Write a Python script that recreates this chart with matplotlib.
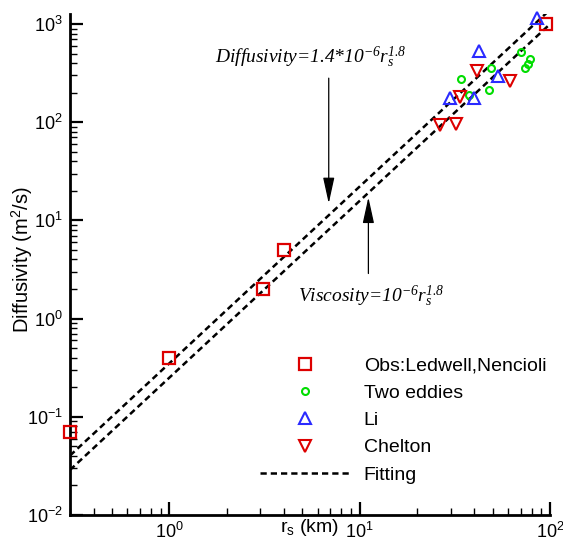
import numpy as np
import matplotlib
matplotlib.use('Agg')
import matplotlib.pyplot as plt
from matplotlib.ticker import LogLocator, NullFormatter

plt.rcParams['font.family'] = ['Liberation Sans', 'DejaVu Sans']
plt.rcParams['mathtext.fontset'] = 'custom'
plt.rcParams['mathtext.rm'] = 'Liberation Serif:italic'
plt.rcParams['mathtext.it'] = 'Liberation Serif:italic'

# observations (r_s in km, diffusivity in m^2/s)
obs_x = [0.3, 1.0, 3.1, 4.0, 95.0]
obs_y = [0.07, 0.4, 2.0, 5.0, 1000.0]

eddy_x = [34.0, 48.7, 37.6, 47.6, 70.1, 78.2, 76.3, 73.6]
eddy_y = [273.0, 358.0, 190.0, 212.0, 518.0, 436.0, 388.0, 353.0]

li_x = [85.0, 42.4, 53.0, 29.9, 39.8]
li_y = [1143.0, 535.0, 294.0, 175.0, 175.0]

chelton_x = [41.4, 61.5, 33.6, 26.4, 31.9]
chelton_y = [333.0, 264.0, 179.0, 93.0, 97.0]

# fitting: coefficient * (r_s in m)^1.8
fit_coef = [1.4e-6, 1.0e-6]
fit_exp = 1.8

red = '#dd0000'
green = '#00dd00'
blue = '#2a2aff'

fig = plt.figure(figsize=(5.63, 5.49), dpi=100)
ax = fig.add_axes([0.1243, 0.0619, 0.8527, 0.9126])

xs = np.logspace(np.log10(0.3), np.log10(100), 200)
fit_lines = []
for c in fit_coef:
    ln, = ax.plot(xs, c * (xs * 1000) ** fit_exp, color='k', ls=(0, (2.5, 1.6)), lw=1.8,
                  zorder=2)
    fit_lines.append(ln)

h_obs, = ax.plot(obs_x, obs_y, 's', ms=8, mfc='none', mec=red, mew=1.6, ls='none',
                 zorder=3, clip_on=False)
h_eddy, = ax.plot(eddy_x, eddy_y, 'o', ms=5, mfc='none', mec=green, mew=1.5, ls='none',
                  zorder=3)
h_li, = ax.plot(li_x, li_y, '^', ms=9, mfc='none', mec=blue, mew=1.5, ls='none',
                zorder=3, clip_on=False)
h_ch, = ax.plot(chelton_x, chelton_y, 'v', ms=9, mfc='none', mec=red, mew=1.5, ls='none',
                zorder=3)

ax.set_xscale('log')
ax.set_yscale('log')
ax.set_xlim(0.3, 100)
ax.set_ylim(0.01, 1265)

for s in ['top', 'right']:
    ax.spines[s].set_visible(False)
for s in ['left', 'bottom']:
    ax.spines[s].set_linewidth(2)

ax.xaxis.set_minor_locator(LogLocator(base=10, subs=np.arange(2, 10)))
ax.yaxis.set_minor_locator(LogLocator(base=10, subs=np.arange(2, 10)))
ax.xaxis.set_minor_formatter(NullFormatter())
ax.yaxis.set_minor_formatter(NullFormatter())
ax.tick_params(which='major', direction='in', length=9.5, width=1.6, labelsize=13, pad=5)
ax.tick_params(which='minor', direction='in', length=5, width=1.0)

ax.set_xlabel(r'r$\mathdefault{_s}$ (km)', fontsize=14, labelpad=-18)
ax.set_ylabel(r'Diffusivity (m$\mathdefault{^2}$/s)', fontsize=14.5)
ax.yaxis.set_label_coords(-0.072, 0.51)

tfont = dict(family='Liberation Serif', style='italic', fontsize=14)
ax.text(5.5, 460, r'Diffusivity=1.4*10$^{-6}$r$_s^{1.8}$', ha='center', va='center', **tfont)
ax.text(11.5, 1.70, r'Viscosity=10$^{-6}$r$_s^{1.8}$', ha='center', va='center', **tfont)

arrow = dict(arrowstyle='-|>,head_length=1.6,head_width=0.35', color='k', lw=0.9,
             shrinkA=0, shrinkB=0)
ax.annotate('', xy=(6.87, 14.9), xytext=(6.87, 281), arrowprops=arrow)
ax.annotate('', xy=(11.1, 17.2), xytext=(11.1, 2.88), arrowprops=arrow)

ax.legend([h_obs, h_eddy, h_li, h_ch, fit_lines[0]],
          ['Obs:Ledwell,Nencioli', 'Two eddies', 'Li', 'Chelton', 'Fitting'],
          loc='upper left', bbox_to_anchor=(252 / 563, 1 - 349 / 549),
          bbox_transform=fig.transFigure, frameon=False, fontsize=14,
          handlelength=4.6, handletextpad=0.75, labelspacing=0.5, borderaxespad=0,
          numpoints=1)

fig.savefig('out.png', dpi=100)
